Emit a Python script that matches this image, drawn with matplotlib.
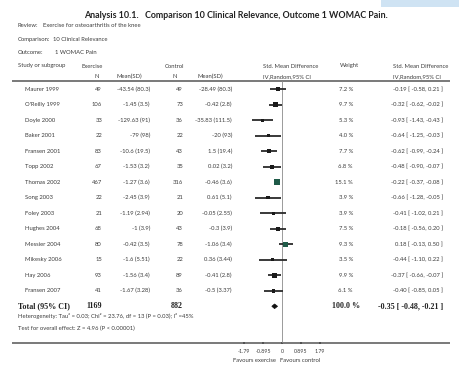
import matplotlib
matplotlib.use("Agg")
import matplotlib.pyplot as plt
from matplotlib.patches import Polygon, Rectangle

# ---------------- data ----------------
studies = ["Maurer 1999", "O'Reilly 1999", "Doyle 2000", "Baker 2001", "Fransen 2001",
           "Topp 2002", "Thomas 2002", "Song 2003", "Foley 2003", "Hughes 2004",
           "Messier 2004", "Mikesky 2006", "Hay 2006", "Fransen 2007"]
ex_n = [49, 106, 33, 22, 83, 67, 467, 22, 21, 68, 80, 15, 93, 41]
ex_msd = ["-43.54 (80.3)", "-1.45 (3.5)", "-129.63 (91)", "-79 (98)", "-10.6 (19.5)",
          "-1.53 (3.2)", "-1.27 (3.6)", "-2.45 (3.9)", "-1.19 (2.94)", "-1 (3.9)",
          "-0.42 (3.5)", "-1.6 (5.51)", "-1.56 (3.4)", "-1.67 (3.28)"]
ct_n = [49, 73, 36, 22, 43, 35, 316, 21, 20, 43, 78, 22, 89, 36]
ct_msd = ["-28.49 (80.3)", "-0.42 (2.8)", "-35.83 (111.5)", "-20 (93)", "1.5 (19.4)",
          "0.02 (3.2)", "-0.46 (3.6)", "0.61 (5.1)", "-0.05 (2.55)", "-0.3 (3.9)",
          "-1.06 (3.4)", "0.36 (3.44)", "-0.41 (2.8)", "-0.5 (3.37)"]
weight = [7.2, 9.7, 5.3, 4.0, 7.7, 6.8, 15.1, 3.9, 3.9, 7.5, 9.3, 3.5, 9.9, 6.1]
smd = [-0.19, -0.32, -0.93, -0.64, -0.62, -0.48, -0.22, -0.66, -0.41, -0.18, 0.18, -0.44, -0.37, -0.40]
lo = [-0.58, -0.62, -1.43, -1.25, -0.99, -0.90, -0.37, -1.28, -1.02, -0.56, -0.13, -1.10, -0.66, -0.85]
hi = [0.21, -0.02, -0.43, -0.03, -0.24, -0.07, -0.08, -0.05, 0.21, 0.20, 0.50, 0.22, -0.07, 0.05]
total_ex_n = 1169
total_ct_n = 882
total_weight = "100.0 %"
total_smd, total_lo, total_hi = -0.35, -0.48, -0.21
tick_vals = [-1.79, -0.895, 0, 0.895, 1.79]
tick_labels = ["-1.79", "-0.895", "0", "0.895", "1.79"]

W, H = 460, 365
fig = plt.figure(figsize=(W / 100, H / 100), dpi=100)
fig.patch.set_facecolor("white")

# background axes in pixel coords for table text/rules
ax0 = fig.add_axes([0, 0, 1, 1])
ax0.set_xlim(0, W)
ax0.set_ylim(H, 0)
ax0.axis("off")

SANS = ["Lato", "DejaVu Sans"]
SERIF = ["Liberation Serif", "DejaVu Serif"]
tc = "#3c3c3c"
fs = 4.25

def row_y(i):
    return 89.3 + 15.5 * i

# light blue box top-right
ax0.add_patch(Rectangle((381, 0), 79, 6.5, facecolor="#cfe3f3", edgecolor="none"))

# title
ax0.text(236, 15, "Analysis 10.1.   Comparison 10 Clinical Relevance, Outcome 1 WOMAC Pain.",
         ha="center", va="center", fontsize=6.4, fontweight="bold", family=SANS, color="#222")

hdr = dict(va="center", fontsize=fs, family=SANS, color=tc)
ax0.text(18, 25.5, "Review:", **hdr)
ax0.text(43, 25.5, "Exercise for osteoarthritis of the knee", **hdr)
ax0.text(18, 39.5, "Comparison:", **hdr)
ax0.text(53, 39.5, "10 Clinical Relevance", **hdr)
ax0.text(18, 52.5, "Outcome:", **hdr)
ax0.text(55, 52.5, "1 WOMAC Pain", **hdr)

ax0.text(18, 66, "Study or subgroup", **hdr)
ax0.text(82, 66, "Exercise", **hdr)
ax0.text(165, 66, "Control", **hdr)
ax0.text(263, 66, "Std. Mean Difference", **hdr)
ax0.text(340, 66, "Weight", **hdr)
ax0.text(393, 66, "Std. Mean Difference", **hdr)
ax0.text(95, 76.5, "N", **hdr)
ax0.text(117, 76.5, "Mean(SD)", **hdr)
ax0.text(173, 76.5, "N", **hdr)
ax0.text(198, 76.5, "Mean(SD)", **hdr)
ax0.text(263, 76.5, "IV,Random,95% CI", **hdr)
ax0.text(393, 76.5, "IV,Random,95% CI", **hdr)

# rules
ax0.plot([12, 450], [81, 81], color="#555", lw=1.1, solid_capstyle="butt")
ax0.plot([12, 450], [343, 343], color="#555", lw=1.1, solid_capstyle="butt")

# study rows
for i, s in enumerate(studies):
    y = row_y(i)
    ax0.text(25, y, s, ha="left", **hdr)
    ax0.text(102, y, str(ex_n[i]), ha="right", **hdr)
    ax0.text(150, y, ex_msd[i], ha="right", **hdr)
    ax0.text(183, y, str(ct_n[i]), ha="right", **hdr)
    ax0.text(232, y, ct_msd[i], ha="right", **hdr)
    ax0.text(353, y, f"{weight[i]:.1f} %", ha="right", **hdr)
    ax0.text(443, y, f"{smd[i]:.2f} [ {lo[i]:.2f}, {hi[i]:.2f} ]", ha="right", **hdr)

# total row
yt = row_y(14)
bold = dict(va="center", fontsize=5.8, fontweight="bold", family=SERIF, color="#222")
ax0.text(18, yt, "Total (95% CI)", ha="left", **bold)
ax0.text(102, yt, str(total_ex_n), ha="right", **bold)
ax0.text(183, yt, str(total_ct_n), ha="right", **bold)
ax0.text(360, yt, total_weight, ha="right", **bold)
ax0.text(443, yt, f"{total_smd:.2f} [ {total_lo:.2f}, {total_hi:.2f} ]", ha="right", **bold)

ax0.text(18, 316, "Heterogeneity: Tau² = 0.03; Chi² = 23.76, df = 13 (P = 0.03); I² =45%", ha="left", **hdr)
ax0.text(18, 328, "Test for overall effect: Z = 4.96 (P < 0.00001)", ha="left", **hdr)

ax0.text(255, 360.5, "Favours exercise", ha="center", **hdr)
ax0.text(300, 360.5, "Favours control", ha="center", **hdr)

# forest axes
x0p, x1p = 239.6, 324.4
ytop, ybot = 81, 343
axf = fig.add_axes([x0p / W, (H - ybot) / H, (x1p - x0p) / W, (ybot - ytop) / H])
axf.set_xlim(-2, 2)
r_top = (ytop - 89.3) / 15.5
r_bot = (ybot - 89.3) / 15.5
axf.set_ylim(r_bot, r_top)
axf.patch.set_alpha(0)
for sp in ["top", "left", "right", "bottom"]:
    axf.spines[sp].set_visible(False)
axf.set_yticks([])
axf.set_xticks(tick_vals)
axf.set_xticklabels(tick_labels, fontsize=3.8, family=SANS, color=tc)
axf.tick_params(axis="x", length=1.8, width=1.1, direction="inout", pad=3.5, color="#444")

axf.axvline(0, color="#8a8a8a", lw=0.6)

sq_colors = ["#1a1a1a"] * len(studies)
sq_colors[6] = "#1f5a48"
sq_colors[10] = "#1f5a48"
for i in range(len(studies)):
    axf.plot([lo[i], hi[i]], [i, i], color="#2a2a2a", lw=1.3, solid_capstyle="butt",
             antialiased=True, zorder=3)
axf.scatter(smd, range(len(studies)), marker="s",
            s=[(1.1 * w ** 0.5) ** 2 for w in weight], c=sq_colors, edgecolors="none", zorder=4)

dh = 0.15
axf.add_patch(Polygon([(total_lo, 14), (total_smd, 14 - dh), (total_hi, 14), (total_smd, 14 + dh)],
                      closed=True, facecolor="#111", edgecolor="#111", lw=0.5, zorder=4))

fig.savefig("out.png", dpi=100, facecolor="white")
